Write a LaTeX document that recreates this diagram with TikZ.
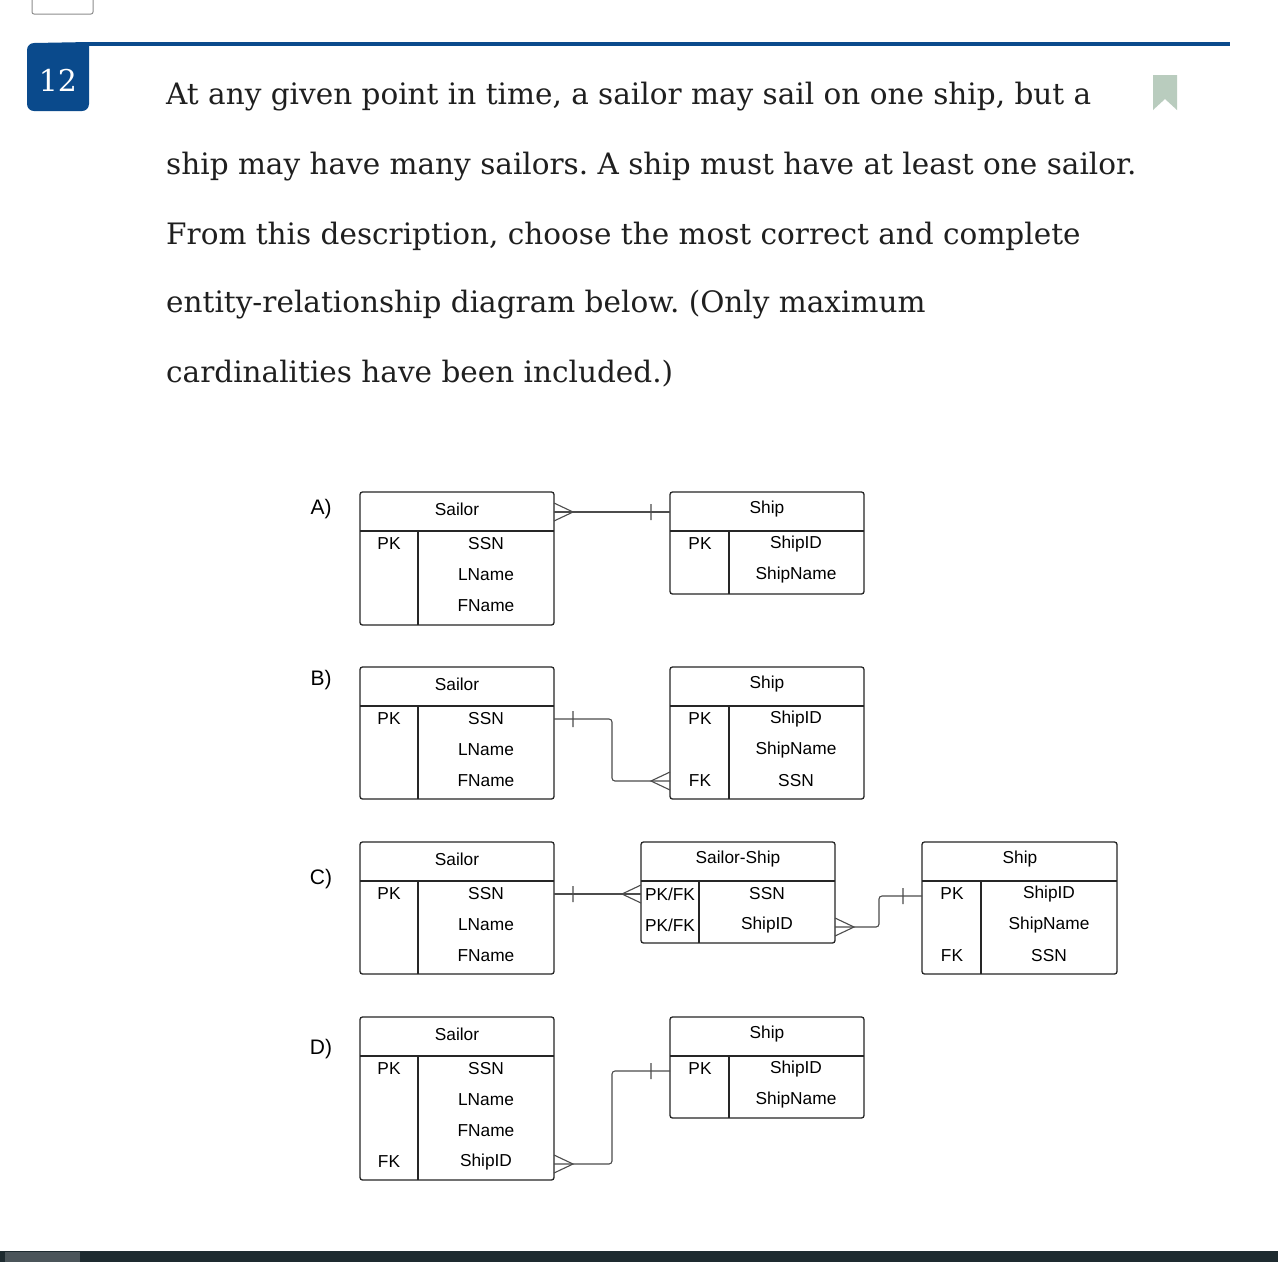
\documentclass[tikz,border=0pt]{standalone}
\usepackage{fontspec}
\setmainfont{DejaVu Serif}
\newfontfamily\tabfont{Liberation Sans}
\frenchspacing
\begin{document}
\begin{tikzpicture}[x=1pt,y=-1pt,
  tbl/.style={draw=black!85,line width=1.3pt,rounded corners=2.5pt},
  sep/.style={draw=black!85,line width=1.3pt},
  conn/.style={draw=black!70,line width=1.1pt},
  cell/.style={font=\tabfont\fontsize{17.3}{17}\selectfont,inner sep=0pt},
  lab/.style={font=\tabfont\fontsize{21}{21}\selectfont,inner sep=0pt},
  qline/.style={font=\fontsize{29.5}{29}\selectfont,anchor=west,inner sep=0pt,text=black!88}]
\useasboundingbox (0,0) rectangle (1278,1262);
\fill[white] (0,0) rectangle (1278,1262);
% top box
\draw[black!45,line width=1pt,rounded corners=2pt] (32,-6) rectangle (93,14);
% header line and badge
\fill[color={rgb,255:red,10;green,74;blue,140}] (89,42) -- (89,104) arc(0:90:7) -- (34,111) arc(90:180:7) -- (27,50) arc(180:270:7) -- cycle;
\node[font=\fontsize{30}{30}\selectfont,text=white] (num) at (58,80) {12};
\fill[color={rgb,255:red,10;green,74;blue,140}] (88,42) rectangle (1230,46);
% bookmark
\fill[color={rgb,255:red,185;green,204;blue,190}] (1153,75) -- (1177,75) -- (1177,110) -- (1165,99) -- (1153,110) -- cycle;
% question text
\node[qline] (q1) at (166,97) {At any given point in time, a sailor may sail on one ship, but a};
\node[qline] (q2) at (166,167) {ship may have many sailors. A ship must have at least one sailor.};
\node[qline] (q3) at (166,236) {From this description, choose the most correct and complete};
\node[qline] (q4) at (166,305) {entity-relationship diagram below. (Only maximum};
\node[qline] (q5) at (166,374) {cardinalities have been included.)};
% labels
\node[lab] (la) at (321,509) {A)};
\node[lab] (lb) at (321,680) {B)};
\node[lab] (lc) at (321,879) {C)};
\node[lab] (ld) at (321,1049) {D)};
% ---------- A
\draw[tbl] (360,492) rectangle (554,625);
\draw[sep] (360,531) -- (554,531) (418,531) -- (418,625);
\node[cell] (aS) at (457,509) {Sailor};
\node[cell] at (389,544) {PK}; \node[cell] at (486,544) {SSN};
\node[cell] at (486,575) {LName}; \node[cell] at (486,606) {FName};
\draw[tbl] (670,492) rectangle (864,594);
\draw[sep] (670,531) -- (864,531) (729,531) -- (729,594);
\node[cell] (aH) at (767,509) {Ship};
\node[cell] at (700,544) {PK}; \node[cell] at (796,544) {ShipID};
\node[cell] at (796,575) {ShipName};
\coordinate (a1) at (554,512); \coordinate (a2) at (670,512);
\draw[conn] (a1) -- (a2);
\draw[conn] (554,503) -- (573,512) -- (554,521) (651,504) -- (651,520);
% ---------- B
\draw[tbl] (360,667) rectangle (554,799);
\draw[sep] (360,706) -- (554,706) (418,706) -- (418,799);
\node[cell] at (457,684) {Sailor};
\node[cell] at (389,719) {PK}; \node[cell] at (486,719) {SSN};
\node[cell] at (486,750) {LName}; \node[cell] at (486,781) {FName};
\draw[tbl] (670,667) rectangle (864,799);
\draw[sep] (670,706) -- (864,706) (729,706) -- (729,799);
\node[cell] at (767,684) {Ship};
\node[cell] at (700,719) {PK}; \node[cell] at (796,719) {ShipID};
\node[cell] at (796,750) {ShipName};
\node[cell] at (700,781) {FK}; \node[cell] at (796,781) {SSN};
\coordinate (b1) at (554,719); \coordinate (b2) at (670,781);
\draw[conn,rounded corners=3pt] (b1) -- (612,719) -- (612,781) -- (b2);
\draw[conn] (573,711) -- (573,727) (670,772) -- (651,781) -- (670,790);
% ---------- C
\draw[tbl] (360,842) rectangle (554,974);
\draw[sep] (360,881) -- (554,881) (418,881) -- (418,974);
\node[cell] at (457,859) {Sailor};
\node[cell] at (389,894) {PK}; \node[cell] at (486,894) {SSN};
\node[cell] at (486,925) {LName}; \node[cell] at (486,956) {FName};
\draw[tbl] (641,842) rectangle (835,943);
\draw[sep] (641,881) -- (835,881) (699,881) -- (699,943);
\node[cell] at (670,894) {PK/FK}; \node[cell] at (767,894) {SSN};
\node[cell] at (670,925) {PK/FK}; \node[cell] at (767,925) {ShipID};
\node[cell] at (738,859) {Sailor-Ship};
\draw[tbl] (922,842) rectangle (1117,974);
\draw[sep] (922,881) -- (1117,881) (981,881) -- (981,974);
\node[cell] at (1020,859) {Ship};
\node[cell] at (952,894) {PK}; \node[cell] at (1049,894) {ShipID};
\node[cell] at (1049,925) {ShipName};
\node[cell] at (952,956) {FK}; \node[cell] at (1049,956) {SSN};
\coordinate (c1) at (554,894); \coordinate (c2) at (641,894);
\coordinate (c3) at (835,927); \coordinate (c4) at (922,896);
\draw[conn] (c1) -- (c2);
\draw[conn] (573,886) -- (573,902) (641,885) -- (622,894) -- (641,903);
\draw[conn,rounded corners=3pt] (c3) -- (879,927) -- (879,896) -- (c4);
\draw[conn] (835,918) -- (854,927) -- (835,936) (903,888) -- (903,904);
% ---------- D
\draw[tbl] (360,1017) rectangle (554,1180);
\draw[sep] (360,1056) -- (554,1056) (418,1056) -- (418,1180);
\node[cell] at (457,1034) {Sailor};
\node[cell] at (389,1069) {PK}; \node[cell] at (486,1069) {SSN};
\node[cell] at (486,1100) {LName}; \node[cell] at (486,1131) {FName};
\node[cell] at (389,1162) {FK}; \node[cell] at (486,1162) {ShipID};
\draw[tbl] (670,1017) rectangle (864,1118);
\draw[sep] (670,1056) -- (864,1056) (729,1056) -- (729,1118);
\node[cell] at (767,1034) {Ship};
\node[cell] at (700,1069) {PK}; \node[cell] at (796,1069) {ShipID};
\node[cell] at (796,1100) {ShipName};
\coordinate (d1) at (554,1164); \coordinate (d2) at (670,1071);
\draw[conn,rounded corners=3pt] (d1) -- (612,1164) -- (612,1071) -- (d2);
\draw[conn] (554,1155) -- (573,1164) -- (554,1173) (651,1063) -- (651,1079);
% bottom bar
\fill[color={rgb,255:red,30;green,43;blue,48}] (0,1251) rectangle (1278,1262);
\fill[color={rgb,255:red,75;green,85;blue,90}] (5,1252) rectangle (80,1262);
\end{tikzpicture}
\end{document}
